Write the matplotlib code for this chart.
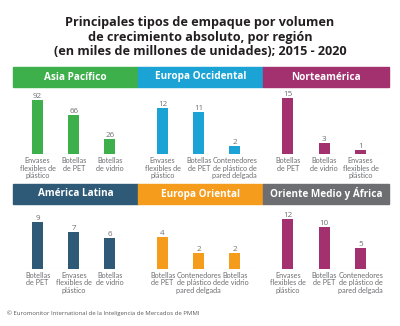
import matplotlib
matplotlib.use("Agg")
import matplotlib.pyplot as plt
from matplotlib.patches import Rectangle

W, H = 400, 326

regions = ["Asia Pacífico", "Europa Occidental", "Norteamérica",
           "América Latina", "Europa Oriental", "Oriente Medio y África"]

asia_labels = ["Envases\nflexibles de\nplástico", "Botellas\nde PET", "Botellas\nde vidrio"]
asia_values = [92, 66, 26]
europa_occ_labels = ["Envases\nflexibles de\nplástico", "Botellas\nde PET", "Contenedores\nde plástico de\npared delgada"]
europa_occ_values = [12, 11, 2]
norte_labels = ["Botellas\nde PET", "Botellas\nde vidrio", "Envases\nflexibles de\nplástico"]
norte_values = [15, 3, 1]
latina_labels = ["Botellas\nde PET", "Envases\nflexibles de\nplástico", "Botellas\nde vidrio"]
latina_values = [9, 7, 6]
europa_or_labels = ["Botellas\nde PET", "Contenedores\nde plástico de\npared delgada", "Botellas\nde vidrio"]
europa_or_values = [4, 2, 2]
oriente_labels = ["Envases\nflexibles de\nplástico", "Botellas\nde PET", "Contenedores\nde plástico de\npared delgada"]
oriente_values = [12, 10, 5]

colors = ["#3db04b", "#1ba3d6", "#a3306f", "#2e5a78", "#f59c1d", "#a3306f"]
header_colors = ["#3db04b", "#1ba3d6", "#a3306f", "#2e5a78", "#f59c1d", "#6d6e71"]
ymax = [102, 15.6, 16.1, 10.9, 7.1, 13.7]

panels = [
    (asia_labels, asia_values), (europa_occ_labels, europa_occ_values),
    (norte_labels, norte_values), (latina_labels, latina_values),
    (europa_or_labels, europa_or_values), (oriente_labels, oriente_values),
]

narrow = ["Lato", "DejaVu Sans"]
bold = ["Open Sans", "DejaVu Sans"]

fig = plt.figure(figsize=(W / 100, H / 100), dpi=100)
fig.patch.set_facecolor("white")


def fx(x):
    return x / W


def fy(y):
    return 1 - y / H


fig.text(0.5, fy(37), "Principales tipos de empaque por volumen\nde crecimiento absoluto, por región\n"
         "(en miles de millones de unidades); 2015 - 2020",
         ha="center", va="center", fontsize=9.1, fontweight="bold", family=bold,
         color="#231f20", linespacing=1.16)

col_x = [13, 138, 263, 389]
band_y = [(67, 87), (184, 204)]
plot_y = [(94, 154), (212, 269)]

for i, (labels, values) in enumerate(panels):
    row, col = divmod(i, 3)
    x0, x1 = col_x[col], col_x[col + 1]
    b0, b1 = band_y[row]
    fig.patches.append(Rectangle((fx(x0), fy(b1)), fx(x1 - x0), (b1 - b0) / H,
                                 transform=fig.transFigure, color=header_colors[i], zorder=0))
    fig.text(fx((x0 + x1) / 2), fy((b0 + b1) / 2), regions[i], ha="center", va="center",
             color="white", fontsize=7.2, fontweight="bold", family=bold)

    t, b = plot_y[row]
    ax = fig.add_axes([fx(x0), fy(b), fx(x1 - x0), (b - t) / H])
    ax.set_xlim(-0.68, 2.78)
    ax.set_ylim(0, ymax[i])
    pos = range(len(values))
    ax.bar(pos, values, width=0.3, color=colors[i], zorder=2)
    ax.axhline(0, xmin=0.05, xmax=0.95, color="#e8e8e8", lw=0.8, zorder=1)
    for p, v, lab in zip(pos, values, labels):
        ax.text(p, v, str(v), ha="center", va="bottom", fontsize=5.8,
                color="#6d6e71", family=bold)
        ax.text(p, -0.05 * ymax[i], lab, ha="center", va="top", fontsize=5.2,
                color="#6d6e71", family=narrow, linespacing=1.1)
    ax.axis("off")

fig.text(fx(7), fy(313), "© Euromonitor International de la Inteligencia de Mercados de PMMI",
         ha="left", va="center", fontsize=4.3, color="#58595b", family=bold)

fig.savefig("out.png", dpi=100)
